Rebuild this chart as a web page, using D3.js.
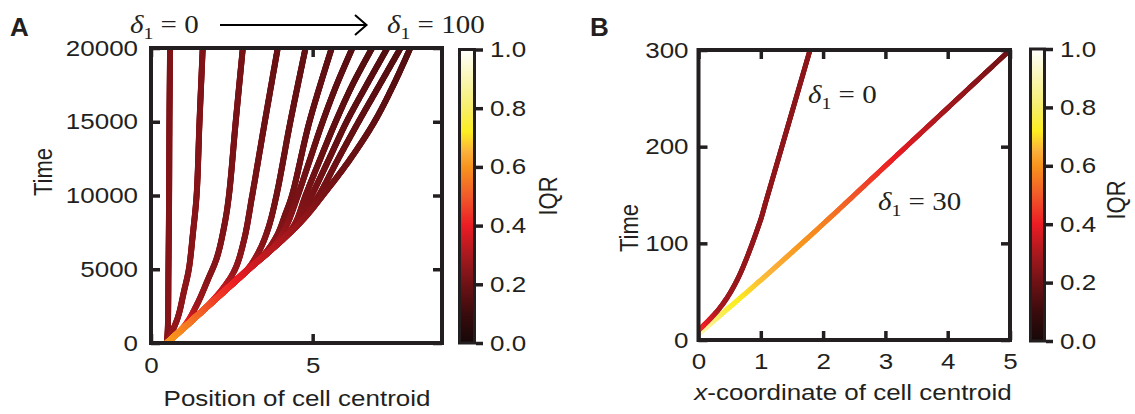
<!DOCTYPE html>
<html>
<head>
<meta charset="utf-8">
<script src="https://cdn.jsdelivr.net/npm/d3@7"></script>
<style>
  html, body { margin: 0; padding: 0; background: #fff; }
  svg { display: block; }
</style>
</head>
<body>
<svg id="fig" width="1135" height="414"></svg>
<script>
// ---- colour map for the IQR (black -> red -> orange -> yellow -> white) ----
const cmapStops  = [0.00, 0.10, 0.20, 0.30, 0.40, 0.50, 0.60, 0.65, 0.72, 0.80, 0.90, 1.00];
const cmapColors = ["#160808", "#3a0b0c", "#6e1215", "#a8191e", "#ec1c24", "#f15a29",
                    "#f7941d", "#fbb03b", "#fcee21", "#f7ee6a", "#faf6b4", "#ffffff"];

// ---- panel A: centroid tracks, one per delta_1, points are [position, time, IQR] ----
const deltaValuesA = [0, 10, 20, 30, 40, 50, 60, 70, 80, 90, 100];
const trackD0 = [[0.49,0,0.25],[0.52,1000,0.24],[0.54,5000,0.24],[0.56,10000,0.235],[0.57,15000,0.23],[0.59,20000,0.23]];
const trackD10 = [[0.49,0,0.30],[0.66,800,0.27],[0.84,1800,0.26],[1.02,3500,0.255],[1.17,5000,0.25],[1.30,7500,0.245],[1.41,10000,0.24],[1.50,15000,0.235],[1.60,20000,0.23]];
const trackD20 = [[0.49,0,0.60],[1.05,1200,0.45],[1.42,2600,0.29],[1.76,4300,0.25],[2.04,5800,0.24],[2.28,8100,0.23],[2.41,10000,0.225],[2.62,15000,0.22],[2.84,20000,0.215]];
const trackD30 = [[0.49,0,0.60],[1.51,2000,0.50],[2.19,3600,0.35],[2.60,5000,0.27],[2.88,7000,0.24],[3.13,10000,0.22],[3.52,15000,0.20],[3.92,20000,0.19]];
const trackD40 = [[0.49,0,0.62],[1.25,1500,0.55],[2.31,3600,0.43],[2.99,5000,0.33],[3.36,6300,0.26],[3.63,7800,0.23],[3.88,10000,0.21],[4.31,15000,0.19],[4.78,20000,0.18]];
const trackD50 = [[0.49,0,0.62],[1.25,1500,0.55],[2.01,3000,0.46],[2.99,5000,0.37],[3.50,6000,0.30],[3.90,7300,0.25],[4.15,8700,0.22],[4.36,10000,0.21],[4.90,15000,0.185],[5.59,20000,0.17]];
const trackD60 = [[0.49,0,0.62],[1.25,1500,0.55],[2.01,3000,0.46],[3.02,5000,0.37],[3.85,6650,0.31],[4.20,8000,0.26],[4.54,10000,0.22],[4.91,12400,0.20],[5.31,15000,0.18],[5.74,17500,0.17],[6.23,20000,0.16]];
const trackD70 = [[0.49,0,0.62],[1.25,1500,0.55],[2.01,3000,0.46],[3.02,5000,0.37],[4.20,7300,0.29],[4.48,8200,0.26],[4.78,10000,0.22],[5.22,12400,0.195],[5.71,15000,0.175],[6.23,17500,0.16],[6.84,20000,0.15]];
const trackD80 = [[0.49,0,0.62],[1.25,1500,0.55],[2.01,3000,0.46],[3.02,5000,0.37],[4.27,7450,0.28],[4.60,8340,0.25],[4.97,10000,0.22],[5.49,12400,0.195],[6.05,15000,0.175],[6.67,17500,0.16],[7.31,20000,0.15]];
const trackD90 = [[0.49,0,0.62],[1.25,1500,0.55],[2.01,3000,0.46],[3.02,5000,0.37],[4.51,7930,0.27],[4.85,8880,0.245],[5.19,10000,0.22],[5.77,12400,0.195],[6.42,15000,0.175],[7.07,17500,0.16],[7.72,20000,0.15]];
const trackD100 = [[0.49,0,0.62],[1.25,1500,0.55],[2.01,3000,0.46],[3.02,5000,0.37],[4.63,8200,0.27],[5.37,10170,0.22],[6.14,12400,0.195],[6.91,15000,0.175],[7.50,17500,0.16],[8.02,20000,0.15]];
const tracksA = [trackD0, trackD10, trackD20, trackD30, trackD40, trackD50, trackD60, trackD70, trackD80, trackD90, trackD100];

const xTicksA = [0, 5];
const yTicksA = [0, 5000, 10000, 15000, 20000];

// ---- panel B: x-coordinate tracks for delta_1 = 0 and delta_1 = 30 ----
const trackB0  = [[0,10,0.45],[0.34,33,0.30],[0.62,62,0.27],[0.98,121,0.26],[1.09,145,0.26],[1.79,300,0.25]];
const trackB30 = [[0,6,0.92],[0.5,34,0.74],[1,62,0.67],[2,120,0.57],[3,180,0.42],[4,240,0.29],[5,300,0.20]];

const xTicksB = [0, 1, 2, 3, 4, 5];
const yTicksB = [0, 100, 200, 300];
const cbarTicks = [0, 0.2, 0.4, 0.6, 0.8, 1.0];

// ---- shared styling ----
const INK = "#231f20";
const SANS = "'Liberation Sans', Arial, Helvetica, sans-serif";
const SERIF = "'Liberation Serif', 'Times New Roman', serif";
const SX = 1.18;   // horizontal stretch of the lettering

const svg = d3.select("#fig");
const colormap = d3.scaleLinear().domain(cmapStops).range(cmapColors)
  .interpolate(d3.interpolateRgb).clamp(true);

const defs = svg.append("defs");

// draw a track as a smooth path whose colour follows the IQR along it
function drawTrack(g, pts, xs, ys, width) {
  const line = d3.line().x(d => xs(d[0])).y(d => ys(d[1])).curve(d3.curveCatmullRom.alpha(0.5));
  const guide = g.append("path").attr("d", line(pts)).attr("fill", "none").attr("stroke", "none");
  const node = guide.node();
  const L = node.getTotalLength();
  const iqrAt = d3.scaleLinear().domain(pts.map(d => d[1])).range(pts.map(d => d[2])).clamp(true);
  const n = Math.max(2, Math.ceil(L / 1.5));
  let prev = node.getPointAtLength(0);
  const segs = [];
  for (let i = 1; i <= n; i++) {
    const p = node.getPointAtLength(L * i / n);
    segs.push({x1: prev.x, y1: prev.y, x2: p.x, y2: p.y, v: iqrAt(ys.invert((prev.y + p.y) / 2))});
    prev = p;
  }
  guide.remove();
  g.append("g").selectAll("line").data(segs).join("line")
    .attr("x1", d => d.x1).attr("y1", d => d.y1)
    .attr("x2", d => d.x2).attr("y2", d => d.y2)
    .attr("stroke", d => colormap(d.v))
    .attr("stroke-width", width)
    .attr("stroke-linecap", "round");
}

function styleAxis(g, fontSize) {
  g.attr("font-family", SANS).attr("font-size", fontSize).attr("fill", INK);
  g.select(".domain").remove();
  g.selectAll(".tick line").attr("stroke", INK).attr("stroke-width", 3.5);
  g.selectAll(".tick text").attr("fill", INK);
}

function stretchTicksH(g) {
  g.selectAll(".tick text").each(function () {
    const t = d3.select(this);
    const x0 = +(t.attr("x") || 0);
    t.attr("x", x0 / SX).attr("transform", `scale(${SX},1)`);
  });
}

function framedPanel(id, xs, ys, xTicks, yTicks, padX, padY) {
  const [x0, x1] = xs.range();
  const [y0, y1] = ys.range();
  const g = svg.append("g").attr("id", id);

  defs.append("clipPath").attr("id", id + "-clip")
    .append("rect").attr("x", x0).attr("y", y1).attr("width", x1 - x0).attr("height", y0 - y1);
  const plot = g.append("g").attr("clip-path", `url(#${id}-clip)`);

  const bottom = g.append("g").attr("transform", `translate(0,${y0})`)
    .call(d3.axisBottom(xs).tickValues(xTicks).tickSizeInner(-9).tickSizeOuter(0).tickPadding(padX).tickFormat(d3.format("d")));
  styleAxis(bottom, 22); stretchTicksH(bottom);
  const top = g.append("g").attr("transform", `translate(0,${y1})`)
    .call(d3.axisTop(xs).tickValues(xTicks).tickSizeInner(-9).tickSizeOuter(0).tickFormat(() => ""));
  styleAxis(top, 22);
  const left = g.append("g").attr("transform", `translate(${x0},0)`)
    .call(d3.axisLeft(ys).tickValues(yTicks).tickSizeInner(-9).tickSizeOuter(0).tickPadding(padY).tickFormat(d3.format("d")));
  styleAxis(left, 22); stretchTicksH(left);
  const right = g.append("g").attr("transform", `translate(${x1},0)`)
    .call(d3.axisRight(ys).tickValues(yTicks).tickSizeInner(-9).tickSizeOuter(0).tickFormat(() => ""));
  styleAxis(right, 22);

  g.append("rect").attr("x", x0).attr("y", y1).attr("width", x1 - x0).attr("height", y0 - y1)
    .attr("fill", "none").attr("stroke", INK).attr("stroke-width", 4);
  return plot;
}

// vertical colour bar with its own axis
const grad = defs.append("linearGradient").attr("id", "iqr-grad")
  .attr("x1", 0).attr("y1", 1).attr("x2", 0).attr("y2", 0);
grad.selectAll("stop").data(cmapStops).join("stop")
  .attr("offset", d => d).attr("stop-color", (d, i) => cmapColors[i]);

function colorBar(x, yTop, yBot, w, labelX, labelY) {
  const g = svg.append("g");
  const s = d3.scaleLinear().domain([0, 1]).range([yBot, yTop]);
  g.append("rect").attr("x", x).attr("y", yTop).attr("width", w).attr("height", yBot - yTop)
    .attr("fill", "url(#iqr-grad)").attr("stroke", INK).attr("stroke-width", 3);
  const ax = g.append("g").attr("transform", `translate(${x + w + 1.5},0)`)
    .call(d3.axisRight(s).tickValues(cbarTicks).tickSizeInner(7).tickSizeOuter(0).tickPadding(7).tickFormat(d3.format(".1f")));
  styleAxis(ax, 22); stretchTicksH(ax);
  g.append("text").attr("transform", `translate(${labelX},${labelY}) rotate(-90) scale(1,${SX})`)
    .attr("text-anchor", "middle").attr("font-family", SANS).attr("font-size", 22).attr("fill", INK)
    .text("IQR");
}

// ---------------- panel A ----------------
const xA = d3.scaleLinear().domain([0, 9]).range([151, 442]);
const yA = d3.scaleLinear().domain([0, 20000]).range([343, 48]);
const plotA = framedPanel("panelA", xA, yA, xTicksA, yTicksA, 14, 13);
tracksA.forEach(tr => drawTrack(plotA, tr, xA, yA, 6));
colorBar(459.5, 49.5, 343, 15, 557, 196);

svg.append("text").attr("transform", `translate(297,406) scale(${SX},1)`)
  .attr("text-anchor", "middle").attr("font-family", SANS).attr("font-size", 22).attr("fill", INK)
  .text("Position of cell centroid");
svg.append("text").attr("transform", `translate(52,172) rotate(-90) scale(1,${SX})`)
  .attr("text-anchor", "middle").attr("font-family", SANS).attr("font-size", 22).attr("fill", INK)
  .text("Time");
svg.append("text").attr("x", 10).attr("y", 36).attr("font-family", SANS).attr("font-weight", "bold")
  .attr("font-size", 26).attr("fill", INK).text("A");

// delta_1 annotation with a math-style subscript
function deltaLabel(x, y, value) {
  const t = svg.append("text").attr("transform", `translate(${x},${y}) scale(1.16,1)`)
    .attr("font-family", SERIF).attr("font-size", 25).attr("fill", INK);
  t.append("tspan").attr("font-style", "italic").text("δ");
  t.append("tspan").attr("font-size", 17).attr("dy", 6).text("1");
  t.append("tspan").attr("dy", -6).text("\u00a0=\u00a0" + value);
}
deltaLabel(130, 33, deltaValuesA[0]);
deltaLabel(387, 33, deltaValuesA[deltaValuesA.length - 1]);
svg.append("line").attr("x1", 220).attr("y1", 25).attr("x2", 366).attr("y2", 25)
  .attr("stroke", "#000").attr("stroke-width", 2);
svg.append("polyline").attr("points", "355,15 366.5,25 355,35")
  .attr("fill", "none").attr("stroke", "#000").attr("stroke-width", 2);

// ---------------- panel B ----------------
const xB = d3.scaleLinear().domain([0, 5]).range([698.5, 1010]);
const yB = d3.scaleLinear().domain([0, 300]).range([340, 50]);
const plotB = framedPanel("panelB", xB, yB, xTicksB, yTicksB, 13, 10);
drawTrack(plotB, trackB30, xB, yB, 5);
drawTrack(plotB, trackB0, xB, yB, 5);
colorBar(1030.5, 49, 341, 14, 1125, 200);

const xlabB = svg.append("text").attr("transform", `translate(853,400) scale(${SX},1)`)
  .attr("text-anchor", "middle").attr("font-family", SANS).attr("font-size", 22).attr("fill", INK);
xlabB.append("tspan").attr("font-style", "italic").text("x");
xlabB.append("tspan").text("-coordinate of cell centroid");
svg.append("text").attr("transform", `translate(638,228) rotate(-90) scale(1,${SX})`)
  .attr("text-anchor", "middle").attr("font-family", SANS).attr("font-size", 22).attr("fill", INK)
  .text("Time");
svg.append("text").attr("x", 590).attr("y", 36).attr("font-family", SANS).attr("font-weight", "bold")
  .attr("font-size", 26).attr("fill", INK).text("B");

deltaLabel(808, 103, 0);
deltaLabel(878, 210, 30);
</script>
</body>
</html>
